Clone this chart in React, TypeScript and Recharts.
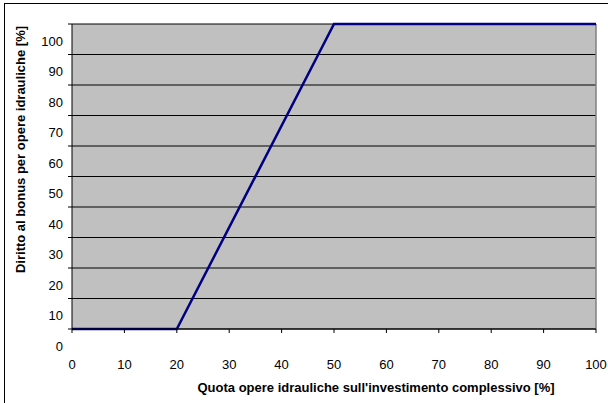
import { LineChart, Line, XAxis, YAxis, CartesianGrid, ReferenceLine } from 'recharts'

const quota = [0, 20, 50, 100]
const bonus = [0, 0, 100, 100]
const xTicks = [0, 10, 20, 30, 40, 50, 60, 70, 80, 90, 100]
const yTicks = [0, 10, 20, 30, 40, 50, 60, 70, 80, 90, 100]

const xTitle = "Quota opere idrauliche sull'investimento complessivo [%]"
const yTitle = 'Diritto al bonus per opere idrauliche [%]'

const FONT = '"Liberation Sans", Arial, sans-serif'

const data = quota.map((q, i) => ({ quota: q, bonus: bonus[i] }))

// Excel drew the value labels one notch lower than their gridlines
function YTick(props: any) {
  const { x, y, payload } = props
  return (
    <text x={x} y={y + 17} dy="0.355em" textAnchor="end" fontSize={13} fill="#000" fontFamily={FONT}>
      {payload.value}
    </text>
  )
}

export default function App() {
  return (
    <div
      style={{
        position: 'absolute',
        left: 0,
        top: 0,
        width: 608,
        height: 403,
        overflow: 'hidden',
        background: '#fff',
        fontFamily: FONT,
      }}
    >
      <div
        style={{
          position: 'absolute',
          left: 4,
          top: 3,
          width: 700,
          height: 500,
          border: '1px solid #000',
        }}
      />
      <div style={{ position: 'absolute', left: 0, top: 0 }}>
        <LineChart width={608} height={403} data={data} margin={{ top: 24, right: 12, left: 0, bottom: 0 }}>
          <CartesianGrid fill="#c0c0c0" fillOpacity={1} stroke="#000" vertical={false} />
          <XAxis
            dataKey="quota"
            type="number"
            domain={[0, 100]}
            ticks={xTicks}
            height={74}
            tickSize={4}
            tickMargin={27}
            axisLine={{ stroke: '#000' }}
            tickLine={{ stroke: '#000' }}
            tick={{ fill: '#000', fontSize: 13, fontFamily: FONT }}
            label={{
              content: ({ viewBox }: any) => (
                <text
                  x={viewBox.x + viewBox.width / 2 + 42}
                  y={viewBox.y + 63}
                  textAnchor="middle"
                  fontSize={13}
                  fontWeight="bold"
                  fill="#000"
                  fontFamily={FONT}
                >
                  {xTitle}
                </text>
              ),
            }}
          />
          <YAxis
            type="number"
            domain={[0, 100]}
            ticks={yTicks}
            width={72}
            tickSize={4}
            tickMargin={5}
            axisLine={{ stroke: '#000' }}
            tickLine={{ stroke: '#000' }}
            tick={<YTick />}
            label={{
              content: ({ viewBox }: any) => {
                const cx = viewBox.x + 25
                const cy = viewBox.y + viewBox.height / 2 - 27
                return (
                  <text
                    x={cx}
                    y={cy}
                    transform={`rotate(-90, ${cx}, ${cy})`}
                    textAnchor="middle"
                    fontSize={13}
                    fontWeight="bold"
                    fill="#000"
                    fontFamily={FONT}
                  >
                    {yTitle}
                  </text>
                )
              },
            }}
          />
          <ReferenceLine x={100} stroke="#808080" strokeWidth={1.5} />
          <Line
            type="linear"
            dataKey="bonus"
            stroke="#000080"
            strokeWidth={2.5}
            dot={false}
            activeDot={false}
            isAnimationActive={false}
          />
        </LineChart>
      </div>
    </div>
  )
}
